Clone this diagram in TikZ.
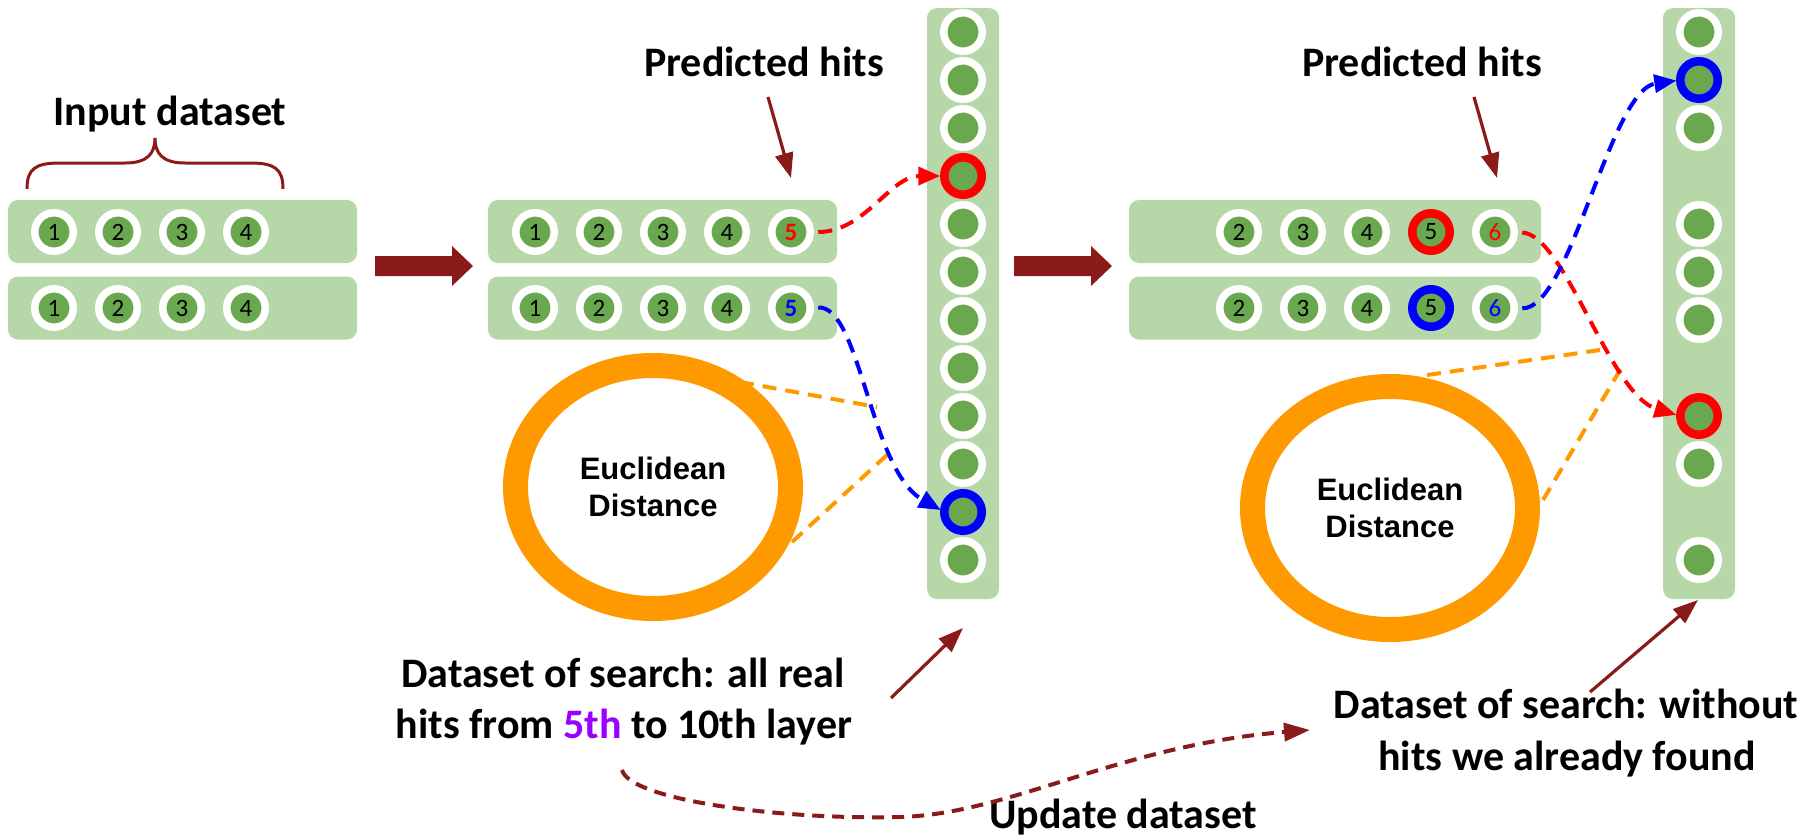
\documentclass[tikz,border=0pt]{standalone}
\usepackage{fontspec}
\setmainfont{Carlito}
\newfontfamily\arialfont{Liberation Sans}
\usetikzlibrary{arrows.meta,shapes.geometric}
\definecolor{lgreen}{HTML}{B6D7A8}
\definecolor{hgreen}{HTML}{6AA84F}
\definecolor{dred}{HTML}{8B1A1A}
\definecolor{orng}{HTML}{FF9900}
\definecolor{purp}{HTML}{9900FF}
\begin{document}
\begin{tikzpicture}[x=1pt,y=-1pt,
  bar/.style={fill=lgreen, rounded corners=10pt, minimum width=349pt, minimum height=63pt, inner sep=0pt, outer sep=0pt},
  hit/.style={circle, fill=hgreen, draw=white, line width=7.5pt, minimum size=38.5pt, inner sep=0pt, outer sep=0pt, font=\fontsize{25}{25}\selectfont},
  hitr/.style={hit, draw=red, line width=8.5pt, minimum size=37.5pt},
  hitb/.style={hit, draw=blue, line width=8.5pt, minimum size=37.5pt},
  ell/.style={ellipse, draw=orng, line width=25pt, fill=white, minimum width=275pt, minimum height=243pt, inner sep=0pt, align=center, font=\arialfont\bfseries\fontsize{31}{37}\selectfont},
  ttl/.style={font=\bfseries\fontsize{42}{51}\selectfont, inner sep=0pt},
  darr/.style={draw=dred, line width=3.2pt, -{Triangle[length=25pt,width=18pt]}},
  rdash/.style={draw=red, line width=4pt, dash pattern=on 14pt off 9pt, -{Triangle[length=22pt,width=18pt]}, shorten <=8pt, shorten >=4pt},
  bdash/.style={rdash, draw=blue},
  odash/.style={draw=orng, line width=4pt, dash pattern=on 14pt off 9pt},
  udash/.style={draw=dred, line width=4pt, dash pattern=on 12pt off 8pt, -{Triangle[length=26pt,width=18pt]}}
]
\useasboundingbox (0,0) rectangle (1806,836);

% rows and columns
\node[bar] (L1) at (182.5,231.5) {};
\node[bar] (L2) at (182.5,308) {};
\node[bar] (M1) at (662.5,231.5) {};
\node[bar] (M2) at (662.5,308) {};
\node[bar, minimum width=412pt] (R1) at (1335,231.5) {};
\node[bar, minimum width=412pt] (R2) at (1335,308) {};
\node[bar, minimum width=72pt, minimum height=591pt] (CL) at (963,303.5) {};
\node[bar, minimum width=72pt, minimum height=591pt] (CR) at (1699,303.5) {};

% input rows
\foreach \i/\x in {1/54,2/118,3/182,4/246}{
  \node[hit] (la\i) at (\x,232) {\i};
  \node[hit] (lb\i) at (\x,308) {\i};
}
% middle rows
\foreach \i/\x in {1/535,2/599,3/663,4/727}{
  \node[hit] (ma\i) at (\x,232) {\i};
  \node[hit] (mb\i) at (\x,308) {\i};
}
\node[hit, text=red, font=\bfseries\fontsize{25}{25}\selectfont] (ma5) at (791,232) {5};
\node[hit, text=blue, font=\bfseries\fontsize{25}{25}\selectfont] (mb5) at (791,308) {5};
% right rows
\foreach \i/\x in {2/1239,3/1303,4/1367}{
  \node[hit] (ra\i) at (\x,232) {\i};
  \node[hit] (rb\i) at (\x,308) {\i};
}
\node[hitr] (ra5) at (1431,232) {5};
\node[hitb] (rb5) at (1431,308) {5};
\node[hit, text=red] (ra6) at (1495,232) {6};
\node[hit, text=blue] (rb6) at (1495,308) {6};

% columns of hits
\foreach \k in {0,1,2,4,5,6,7,8,9,11}{
  \node[hit] (cl\k) at (963,{32+48*\k}) {};
}
\node[hitr] (cl3) at (963,176) {};
\node[hitb] (cl10) at (963,512) {};
\foreach \k in {0,2,4,5,6,8,9,11}{
  \node[hit] (cr\k) at (1699,{32+48*\k}) {};
}
\node[hitb] (cr1) at (1699,80) {};
\node[hitr] (cr7) at (1699,416) {};

% brace
\draw[dred, line width=3pt] (27,189) .. controls (27,169) and (35,163) .. (60,163) -- (125,163)
  .. controls (148,163) and (155,153) .. (155,138)
  .. controls (155,153) and (162,163) .. (185,163) -- (250,163)
  .. controls (275,163) and (283,169) .. (283,189);

% big arrows
\fill[dred] (375,256) -- (452,256) -- (452,246) -- (473,266) -- (452,286) -- (452,276) -- (375,276) -- cycle;
\fill[dred] (1014,256) -- (1091,256) -- (1091,246) -- (1112,266) -- (1091,286) -- (1091,276) -- (1014,276) -- cycle;

% orange dashed lines
\coordinate (oa1) at (740,382); \coordinate (oa2) at (877,407);
\coordinate (ob1) at (792,542); \coordinate (ob2) at (887,455);
\coordinate (oc1) at (1427,375); \coordinate (oc2) at (1600,350);
\coordinate (od1) at (1543,500); \coordinate (od2) at (1623,365);
\draw[odash] (oa1) -- (oa2);
\draw[odash] (ob1) -- (ob2);
\draw[odash] (oc1) -- (oc2);
\draw[odash] (od1) -- (od2);

% ellipses
\node[ell] (EL) at (653,487) {Euclidean\\Distance};
\node[ell] (ER) at (1390,508) {Euclidean\\Distance};

% texts
\node[ttl, anchor=base] (inp) at (170,125) {Input dataset};
\node[ttl, anchor=base] (ph1) at (764,76) {Predicted hits};
\node[ttl, anchor=base] (ph2) at (1422,76) {Predicted hits};
\node[ttl, anchor=base] (dl1) at (623,687) {Dataset of search: all real};
\node[ttl, anchor=base] (dl2) at (624,738) {hits from \textcolor{purp}{5th} to 10th layer};
\node[ttl, anchor=base] (dr1) at (1566,718) {Dataset of search: without};
\node[ttl, anchor=base] (dr2) at (1567,770) {hits we already found};
\node[ttl, anchor=base] (upd) at (1123,828) {Update dataset};

% dark red arrows
\coordinate (pa1) at (768,97); \coordinate (pa1e) at (791,178);
\coordinate (pa2) at (1474,97); \coordinate (pa2e) at (1497,178);
\coordinate (da1) at (891,698); \coordinate (da1e) at (963,628);
\coordinate (da2) at (1590,692); \coordinate (da2e) at (1698,600);
\draw[darr] (pa1) -- (pa1e);
\draw[darr] (pa2) -- (pa2e);
\draw[darr] (da1) -- (da1e);
\draw[darr] (da2) -- (da2e);

% coloured dashed connectors
\draw[rdash] (ma5.east) .. controls (865,232) and (890,176) .. (cl3.west);
\draw[bdash] (mb5.east) .. controls (860,305) and (870,470) .. (cl10.west);
\draw[rdash] (ra6.east) .. controls (1565,235) and (1610,395) .. (cr7.west);
\draw[bdash] (rb6.east) .. controls (1570,310) and (1610,90) .. (cr1.west);

% update dataset
\coordinate (us) at (622,770); \coordinate (ue) at (1310,730);
\draw[udash] (us) .. controls (630,800) and (780,820) .. (900,817)
  .. controls (1010,814) and (1120,745) .. (ue);
\end{tikzpicture}
\end{document}
